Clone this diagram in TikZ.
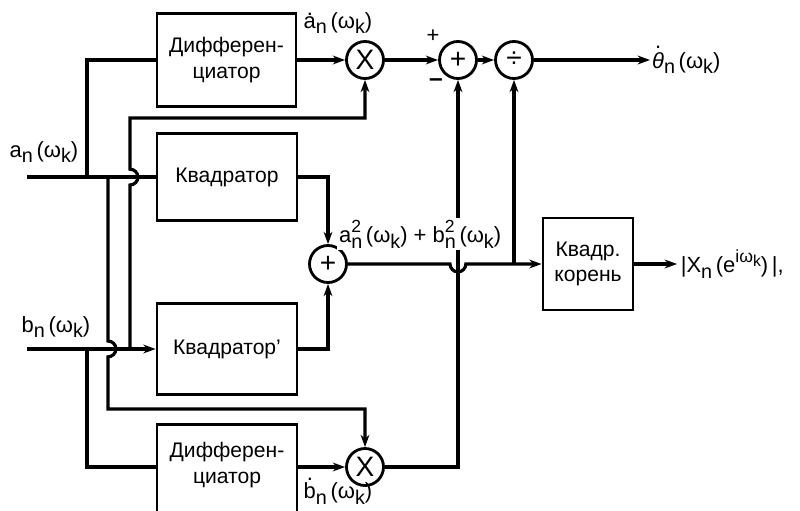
\documentclass[tikz,border=0pt]{standalone}
\usepackage{fontspec}
\usepackage{graphicx}
\setmainfont{Liberation Sans}
\usetikzlibrary{arrows.meta,calc}
\newcommand{\dotacc}[2]{\leavevmode\setbox0\hbox{#2}\hbox to\wd0{\hss\raisebox{#1}{.}\hss}\kern-\wd0\box0}
\newcommand{\sbs}[1]{\raisebox{-0.5ex}{\scalebox{0.9}{#1}}}
\newcommand{\sps}[1]{\raisebox{0.9ex}{\scalebox{0.8}{#1}}}
\begin{document}
\begin{tikzpicture}[x=0.02cm,y=-0.02cm,
  every node/.style={font=\fontsize{12}{14.5}\selectfont},
  blk/.style={draw, line width=1.6pt, rectangle, inner sep=0pt, align=center},
  op/.style={draw, circle, line width=1.6pt, minimum size=0.74cm, inner sep=0pt, font=\fontsize{16}{16}\selectfont},
  wire/.style={line width=1.8pt},
  arr/.style={wire, -{Stealth[length=7pt,width=5pt]}},
  lbl/.style={inner sep=1pt, font=\fontsize{12.5}{14}\selectfont}]
\clip (0,0) rectangle (800,510);
% blocks
\node[blk, minimum width=2.78cm, minimum height=1.86cm] (d1) at (226.5,60) {Дифферен-\\циатор};
\node[blk, minimum width=2.8cm, minimum height=1.74cm] (q1) at (227,177) {Квадратор};
\node[blk, minimum width=2.8cm, minimum height=1.82cm] (q2) at (227,349) {Квадратор'};
\node[blk, minimum width=2.8cm, minimum height=2.4cm, anchor=north] (d2) at (227,423) {};
\node[align=center] (d2t) at (227,465) {Дифферен-\\циатор};
\node[blk, minimum width=1.8cm, minimum height=1.84cm] (sq) at (588,264) {Квадр.\\корень};
% operators
\node[op] (m1) at (365,60) {X};
\node[op] (s1) at (458,60) {+};
\node[op] (dv) at (514,60) {÷};
\node[op] (s2) at (328,264) {+};
\node[op] (m2) at (365,467) {X};
% coordinates
\coordinate (ai) at (27,177);
\coordinate (bi) at (27,349);
\coordinate (ja) at (87,177);
\coordinate (jb) at (87,349);
\coordinate (ka) at (108,177);
\coordinate (kb) at (130,349);
\coordinate (js) at (514,264);
\coordinate (th) at (650,60);
\coordinate (xo) at (677,264);
% input a
\draw[wire] (ai) -- (q1.west);
\draw[wire] (ja) -- (87,60) -- (d1.west);
% input b
\draw[arr] (bi) -- (q2.west);
\draw[wire] (jb) -- (87,467) -- (d2.west |- m2);
% differentiator outputs
\draw[arr] (d1.east) -- (m1.west);
\draw[arr] (d2.east |- m2) -- (m2.west);
% cross feeds
\draw[arr] (kb) -- (130,185) arc[start angle=-90,end angle=90,radius=4.5pt] -- (130,118) -- (m1 |- 0,118) -- (m1.south);
\draw[arr] (ka) -- (108,341) arc[start angle=90,end angle=-90,radius=4.5pt] -- (108,409) -- (m2 |- 0,409) -- (m2.north);
% squarers
\draw[arr] (q1.east) -- (s2 |- q1.east) -- (s2.north);
\draw[arr] (q2.east) -- (s2 |- q2.east) -- (s2.south);
% top chain
\draw[arr] (m1.east) -- (s1.west);
\draw[arr] (s1.east) -- (dv.west);
\draw[arr] (dv.east) -- (th);
% bottom multiplier to subtractor
\draw[arr] (m2.east) -- (s1 |- m2) -- (s1.south);
% sum of squares
\draw[arr] (s2.east) -- (450,264) arc[start angle=180,end angle=360,radius=4.5pt] -- (sq.west);
\draw[arr] (js) -- (dv.south);
\draw[arr] (sq.east) -- (xo);
% labels
\node[lbl] (la) at (44,152) {a\sbs{n}\,(ω\sbs{k})};
\node[lbl] (lb) at (56,327) {b\sbs{n}\,(ω\sbs{k})};
\node[lbl] (lad) at (338,23) {\dotacc{1.1ex}{a}\sbs{n}\,(ω\sbs{k})};
\node[lbl] (lbd) at (338,491) {\dotacc{1.6ex}{b}\sbs{n}\,(ω\sbs{k})};
\node[lbl] (lp) at (433,36) {+};
\node[lbl, font=\fontsize{14}{14}\selectfont] (lm) at (436,83) {\textbf{–}};
\node[lbl, anchor=west] (lth) at (th) {\dotacc{1.7ex}{\textit{θ}}\sbs{n}\,(ω\sbs{k})};
\node[lbl, anchor=west, inner sep=2pt] (lx) at (xo) {|X\sbs{n}\,(e\sps{iω\sbs{k}})\,|,};
\node[lbl, anchor=west, fill=white, inner sep=1pt] (lsq) at (337,234) {a\rlap{\sps{2}}\sbs{n}\,(ω\sbs{k}) + b\rlap{\sps{2}}\sbs{n}\,(ω\sbs{k})};
\end{tikzpicture}
\end{document}
